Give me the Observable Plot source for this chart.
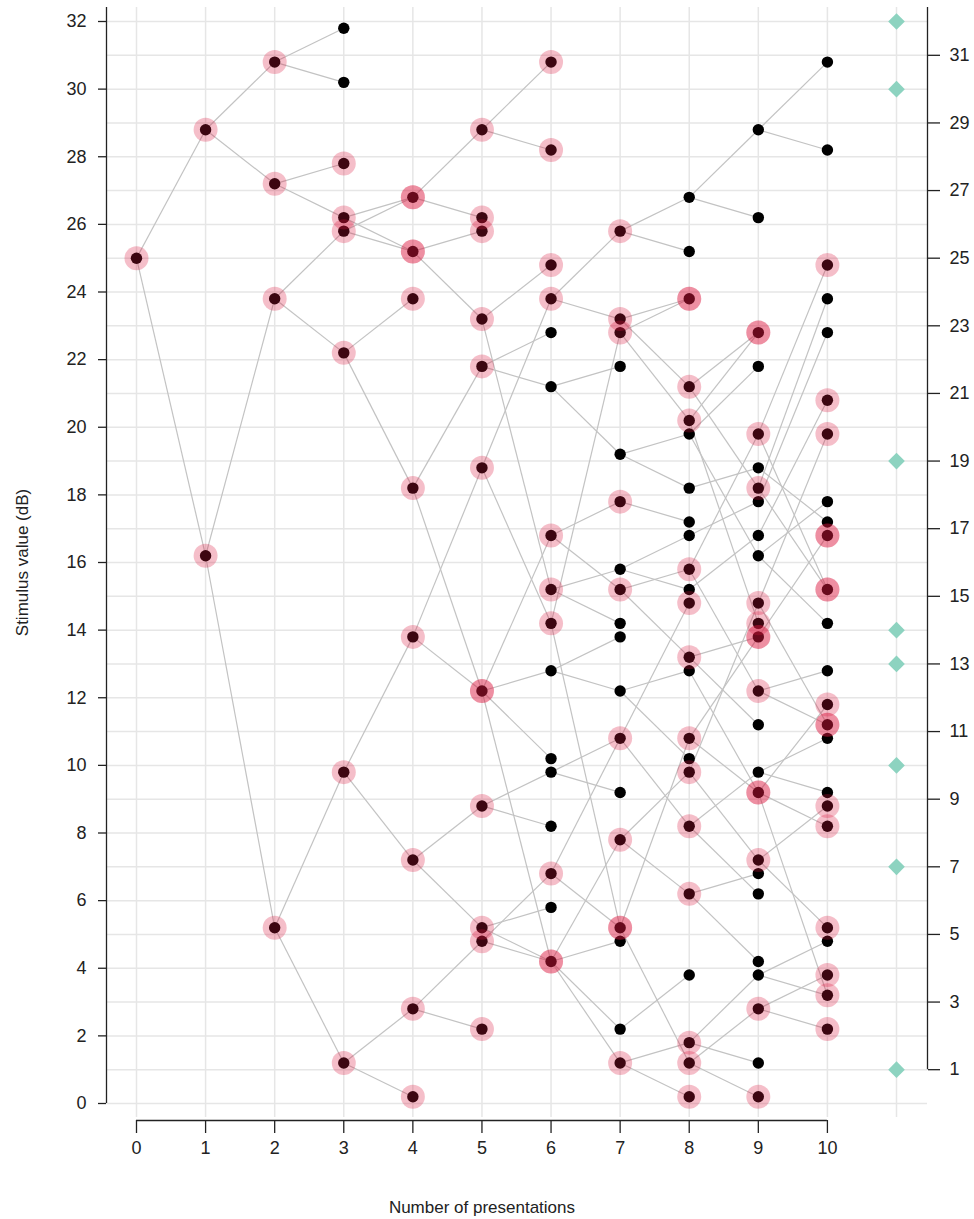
<!DOCTYPE html>
<html>
<head>
<meta charset="utf-8">
<script src="https://cdn.jsdelivr.net/npm/d3@7"></script>
<script src="https://cdn.jsdelivr.net/npm/@observablehq/plot@0.6"></script>
<style>
  html, body { margin: 0; padding: 0; background: #fff; }
  #chart svg { display: block; }
</style>
</head>
<body>
<div id="chart"></div>
<script>
// ---------- data ----------
const columns = d3.range(0, 11);              // number of presentations (tick labels)
const leftTicks = d3.range(0, 33, 2);         // left axis tick labels
const rightTicks = d3.range(1, 32, 2);        // right axis tick labels
const gridValues = d3.range(0, 33);           // horizontal grid values
const gridColumns = d3.range(0, 12);          // vertical grid columns
const rootValue = 25;

// edgesByColumn[k] = [parentValue (column k-1), childValue (column k)]
const edgesByColumn = [
  [],
  [[25, 28.8], [25, 16.2]],
  [[28.8, 30.8], [28.8, 27.2], [16.2, 23.8], [16.2, 5.2]],
  [[30.8, 31.8], [30.8, 30.2], [27.2, 27.8], [27.2, 26.2], [23.8, 25.8], [23.8, 22.2], [5.2, 9.8], [5.2, 1.2]],
  [[26.2, 26.8], [26.2, 25.2], [25.8, 26.8], [25.8, 25.2], [22.2, 23.8], [22.2, 18.2], [9.8, 13.8], [9.8, 7.2], [1.2, 2.8], [1.2, 0.2]],
  [[26.8, 28.8], [26.8, 26.2], [25.2, 25.8], [25.2, 23.2], [18.2, 21.8], [18.2, 12.2], [13.8, 18.8], [13.8, 12.2], [7.2, 8.8], [7.2, 5.2], [2.8, 4.8], [2.8, 2.2]],
  [[28.8, 30.8], [28.8, 28.2], [23.2, 24.8], [23.2, 15.2], [21.8, 22.8], [21.8, 21.2], [18.8, 23.8], [18.8, 14.2], [12.2, 16.8], [12.2, 12.8], [12.2, 10.2], [12.2, 4.2], [8.8, 9.8], [8.8, 8.2], [5.2, 5.8], [5.2, 4.2], [4.8, 6.8], [4.8, 4.2]],
  [[23.8, 25.8], [23.8, 23.2], [21.2, 21.8], [21.2, 19.2], [16.8, 17.8], [16.8, 15.2], [15.2, 15.8], [15.2, 14.2], [14.2, 22.8], [14.2, 5.2], [12.8, 13.8], [12.8, 12.2], [9.8, 10.8], [9.8, 9.2], [6.8, 10.8], [6.8, 5.2], [4.2, 7.8], [4.2, 4.8], [4.2, 2.2], [4.2, 1.2]],
  [[25.8, 26.8], [25.8, 25.2], [23.2, 23.8], [23.2, 21.2], [22.8, 23.8], [22.8, 20.2], [19.2, 19.8], [19.2, 18.2], [17.8, 17.2], [15.8, 16.8], [15.8, 15.2], [15.2, 15.8], [15.2, 13.2], [12.2, 12.8], [12.2, 10.2], [10.8, 14.8], [10.8, 8.2], [7.8, 9.8], [7.8, 6.2], [5.2, 10.8], [5.2, 1.2], [2.2, 3.8], [1.2, 1.8], [1.2, 0.2]],
  [[26.8, 28.8], [26.8, 26.2], [21.2, 22.8], [21.2, 18.2], [20.2, 22.8], [20.2, 14.2], [19.8, 21.8], [19.8, 16.2], [18.2, 18.8], [16.8, 17.8], [15.2, 16.8], [15.8, 19.8], [15.8, 12.2], [13.2, 13.8], [13.2, 11.2], [10.8, 13.8], [10.8, 9.2], [12.8, 9.2], [9.8, 14.8], [9.8, 7.2], [8.2, 9.8], [8.2, 6.2], [6.2, 6.8], [6.2, 4.2], [1.8, 3.8], [1.8, 1.2], [1.2, 2.8], [1.2, 0.2]],
  [[28.8, 30.8], [28.8, 28.2], [19.8, 24.8], [19.8, 15.2], [18.2, 23.8], [18.2, 15.2], [17.8, 22.8], [18.8, 17.2], [16.8, 20.8], [16.2, 17.8], [16.2, 14.2], [14.8, 19.8], [14.8, 11.2], [13.8, 16.8], [12.2, 12.8], [12.2, 11.2], [9.8, 10.8], [9.8, 9.2], [9.2, 11.8], [9.2, 8.2], [9.2, 3.2], [7.2, 8.8], [7.2, 5.2], [3.8, 4.8], [3.8, 3.2], [2.8, 3.8], [2.8, 2.2]]
];

// highlighted (pink) nodes per column; repeated values are overlapping nodes
const pinkByColumn = [
  [25],
  [28.8, 16.2],
  [30.8, 27.2, 23.8, 5.2],
  [27.8, 26.2, 25.8, 22.2, 9.8, 1.2],
  [26.8, 26.8, 25.2, 25.2, 23.8, 18.2, 13.8, 7.2, 2.8, 0.2],
  [28.8, 26.2, 25.8, 23.2, 21.8, 18.8, 12.2, 12.2, 8.8, 5.2, 4.8, 2.2],
  [30.8, 28.2, 24.8, 23.8, 16.8, 15.2, 14.2, 6.8, 4.2, 4.2],
  [25.8, 23.2, 22.8, 17.8, 15.2, 10.8, 7.8, 5.2, 5.2, 1.2],
  [23.8, 23.8, 21.2, 20.2, 15.8, 14.8, 13.2, 10.8, 9.8, 8.2, 6.2, 1.8, 1.2, 0.2],
  [22.8, 22.8, 19.8, 18.2, 14.8, 14.2, 13.8, 13.8, 12.2, 9.2, 9.2, 7.2, 2.8, 0.2],
  [24.8, 20.8, 19.8, 16.8, 16.8, 15.2, 15.2, 11.8, 11.2, 11.2, 8.8, 8.2, 5.2, 3.8, 3.2, 2.2]
];

const diamondValues = [32, 30, 19, 14, 13, 10, 7, 1];
const diamondColumn = 11;

const yLabel = "Stimulus value (dB)";
const xLabel = "Number of presentations";

// ---------- derived tables ----------
const links = edgesByColumn.flatMap((pairs, col) =>
  pairs.map(([from, to]) => ({col, from, to})));

const nodeMap = new Map();
nodeMap.set("0|" + rootValue, {col: 0, v: rootValue});
for (const l of links) nodeMap.set(l.col + "|" + l.to, {col: l.col, v: l.to});
const nodes = Array.from(nodeMap.values());

const pink = pinkByColumn.flatMap((vals, col) => vals.map(v => ({col, v})));

// ---------- layout ----------
const W = 974, H = 1219;
const mL = 136, mR = 78, mT = 21, mB = 116;
const kx = (W - mL - mR) / 11;
const ky = (H - mT - mB) / 32;
const leftAxisX = -30 / kx;
const rightAxisX = 11 + 31 / kx;
const bottomAxisY = -17 / ky;
const topExtent = 32 + 14 / ky;
const bottomExtent = -14 / ky;

const axisColor = "#222";

const chart = Plot.plot({
  width: W,
  height: H,
  marginLeft: mL,
  marginRight: mR,
  marginTop: mT,
  marginBottom: mB,
  x: {domain: [0, 11], axis: null},
  y: {domain: [0, 32], axis: null},
  style: {
    fontFamily: '"Liberation Sans", Arial, Helvetica, sans-serif',
    fontSize: "18px",
    color: axisColor,
    background: "white"
  },
  marks: [
    // grid
    Plot.ruleY(gridValues, {x1: leftAxisX, x2: rightAxisX, stroke: "#e6e6e6", strokeWidth: 1.5}),
    Plot.ruleX(gridColumns, {y1: bottomExtent, y2: topExtent, stroke: "#e6e6e6", strokeWidth: 1.5}),
    // axis lines
    Plot.ruleX([leftAxisX], {y1: 0, y2: topExtent, stroke: axisColor, strokeWidth: 1.3}),
    Plot.ruleX([rightAxisX], {y1: 1, y2: topExtent, stroke: axisColor, strokeWidth: 1.3}),
    Plot.ruleY([bottomAxisY], {x1: 0, x2: 10, stroke: axisColor, strokeWidth: 1.3}),
    // tree edges
    Plot.link(links, {
      x1: d => d.col - 1, y1: "from", x2: "col", y2: "to",
      stroke: "#c3c3c3", strokeWidth: 1.2
    }),
    // nodes
    Plot.dot(nodes, {x: "col", y: "v", r: 5.7, fill: "black", stroke: "none"}),
    Plot.dot(pink, {x: "col", y: "v", r: 12, fill: "#dc143c", fillOpacity: 0.28, stroke: "none"}),
    // diamonds
    Plot.dot(diamondValues, {x: () => diamondColumn, y: d => d, symbol: "diamond2", r: 7.5, fill: "#8dd3c0", stroke: "none"}),
    // axes
    Plot.axisY(leftTicks, {anchor: "left", dx: -30, tickSize: 8, tickPadding: 12, label: null, stroke: axisColor, strokeWidth: 1.3}),
    Plot.axisY(rightTicks, {anchor: "right", dx: 31, tickSize: 12, tickPadding: 10, label: null, stroke: axisColor, strokeWidth: 1.3}),
    Plot.axisX(columns, {anchor: "bottom", dy: 17, tickSize: 13, tickPadding: 8, label: null, stroke: axisColor, strokeWidth: 1.3}),
    // axis titles
    Plot.text([yLabel], {frameAnchor: "left", textAnchor: "middle", lineAnchor: "middle", dx: -114, rotate: -90, fontSize: 17, fill: axisColor}),
    Plot.text([xLabel], {x: d3.mean(columns), frameAnchor: "bottom", textAnchor: "middle", lineAnchor: "middle", dy: 104, fontSize: 17, fill: axisColor})
  ]
});

document.getElementById("chart").appendChild(chart);
</script>
</body>
</html>
